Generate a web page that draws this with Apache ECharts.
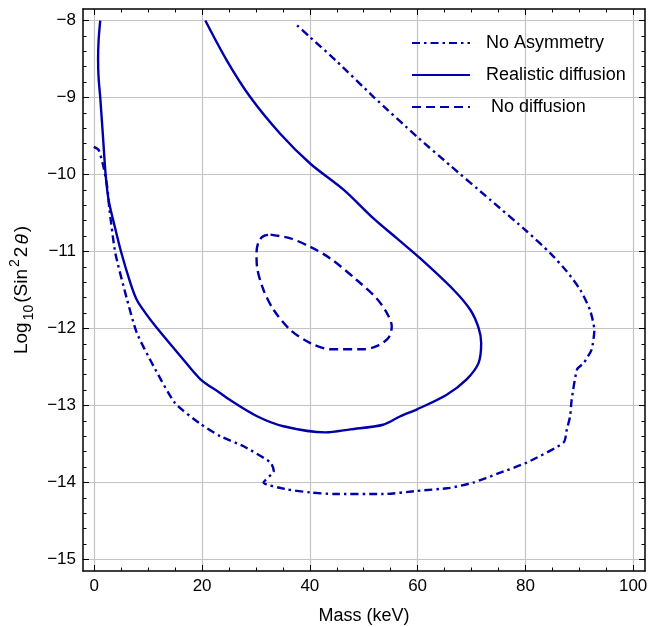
<!DOCTYPE html>
<html>
<head>
<meta charset="utf-8">
<script src="https://cdn.jsdelivr.net/npm/echarts@6/dist/echarts.min.js"></script>
<style>
html,body{margin:0;padding:0;background:#fff;}
#chart{width:660px;height:627px;}
</style>
</head>
<body>
<div id="chart"></div>
<script>
// ---- Data (Mass in keV, Log10(Sin^2 2θ)) ----
const noAsymMass = [-0.1,0.8,1.7,2.4,2.8,3.9,6.1,7.9,11.0,15.0,19.7,23.4,27.7,32.7,33.3,31.4,35.8,40.1,44.4,53.7,59.9,66.0,70.4,74.7,80.3,87.1,87.7,88.3,88.6,89.6,90.8,92.3,92.8,92.0,90.2,87.7,84.6,80.3,73.5,66.0,59.9,51.8,45.0,40.1,37.3];
const noAsymLog = [-9.64,-9.68,-9.90,-10.16,-10.45,-11.02,-11.63,-12.06,-12.49,-12.97,-13.24,-13.40,-13.53,-13.74,-13.85,-14.00,-14.09,-14.13,-14.15,-14.15,-14.11,-14.07,-14.00,-13.89,-13.74,-13.48,-13.31,-13.14,-12.92,-12.53,-12.45,-12.27,-12.02,-11.76,-11.50,-11.26,-11.02,-10.74,-10.33,-9.88,-9.51,-8.99,-8.53,-8.22,-8.04];

const realMass = [1.1,0.8,0.7,0.8,1.1,1.6,2.1,2.65,3.6,4.95,6.7,7.9,9.5,11.7,16.0,19.7,23.4,25.2,30.2,35.1,42.9,47.5,53.6,56.8,59.9,65.4,69.1,71.3,71.8,71.3,69.8,66.7,60.5,56.0,51.8,46.3,40.1,34.5,28.9,24.6,20.6];
const realLog = [-8.00,-8.25,-8.50,-8.75,-9.00,-9.50,-10.00,-10.33,-10.62,-11.00,-11.41,-11.63,-11.80,-12.00,-12.36,-12.66,-12.84,-12.93,-13.14,-13.27,-13.35,-13.31,-13.25,-13.14,-13.05,-12.86,-12.66,-12.45,-12.19,-11.99,-11.76,-11.50,-11.09,-10.82,-10.57,-10.20,-9.86,-9.47,-8.99,-8.52,-8.00];

const noDiffMass = [32.7,36.4,40.1,43.8,48.7,52.4,54.3,55.2,54.6,52.4,50.0,43.8,40.1,36.4,33.3,31.4,30.2,30.1,30.5,31.4,32.7];
const noDiffLog = [-10.78,-10.83,-10.94,-11.09,-11.37,-11.61,-11.80,-11.97,-12.12,-12.23,-12.27,-12.27,-12.19,-12.02,-11.76,-11.50,-11.20,-11.02,-10.87,-10.80,-10.78];

const seriesNames = ['No Asymmetry', 'Realistic diffusion', ' No diffusion'];
const xTicks = [0, 20, 40, 60, 80, 100];
const xMinorTicks = [5,10,15,25,30,35,45,50,55,65,70,75,85,90,95];
const yTicks = [-15, -14, -13, -12, -11, -10, -9, -8];
const yMinorTicks = [-14.8,-14.6,-14.4,-14.2,-13.8,-13.6,-13.4,-13.2,-12.8,-12.6,-12.4,-12.2,-11.8,-11.6,-11.4,-11.2,-10.8,-10.6,-10.4,-10.2,-9.8,-9.6,-9.4,-9.2,-8.8,-8.6,-8.4,-8.2];

const pairs = (xs, ys) => xs.map((x, i) => [x, ys[i]]);

const FONT = '"Liberation Sans", Arial, sans-serif';
const BLUE = '#0000aa';
const X_MIN = -2.1, X_MAX = 102.2, Y_MIN = -15.15, Y_MAX = -7.85;

const chart = echarts.init(document.getElementById('chart'), null, {renderer: 'canvas'});

function xAxisDef(pos, opts) {
  return Object.assign({
    type: 'value', position: pos, min: X_MIN, max: X_MAX, splitNumber: 5,
    axisLine: {show: false, onZero: false},
    axisTick: {show: false},
    axisLabel: {show: false},
    splitLine: {show: false},
    minorTick: {show: false},
    minorSplitLine: {show: false}
  }, opts);
}
function yAxisDef(pos, opts) {
  return Object.assign({
    type: 'value', position: pos, min: Y_MIN, max: Y_MAX, splitNumber: 7,
    axisLine: {show: false, onZero: false},
    axisTick: {show: false},
    axisLabel: {show: false},
    splitLine: {show: false},
    minorTick: {show: false},
    minorSplitLine: {show: false}
  }, opts);
}

const option = {
  backgroundColor: '#ffffff',
  animation: false,
  grid: {left: 83, right: 15, top: 9, bottom: 56, containLabel: false, outerBoundsMode: 'none'},
  legend: {
    orient: 'vertical',
    left: 411, top: 33,
    padding: 0,
    itemWidth: 58, itemHeight: 14, itemGap: 12,
    data: seriesNames,
    itemStyle: {opacity: 0},
    textStyle: {fontSize: 18, fontFamily: FONT, color: '#000', lineHeight: 20, padding: [0, 0, 0, 11]}
  },
  xAxis: [
    xAxisDef('bottom', {
      name: 'Mass (keV)', nameLocation: 'middle', nameGap: 36,
      nameTextStyle: {fontSize: 18, fontFamily: FONT, color: '#000'},
      axisLine: {show: true, onZero: false, lineStyle: {color: '#000', width: 1.5}},
      axisTick: {show: true, inside: true, length: 6, customValues: xTicks, lineStyle: {color: '#000', width: 1}},
      axisLabel: {show: true, customValues: xTicks, fontSize: 17, fontFamily: FONT, color: '#000', margin: 7},
      splitLine: {show: true, lineStyle: {color: '#c4c4c4', width: 1.2}}
    }),
    xAxisDef('bottom', {
      axisTick: {show: true, inside: true, length: 3.5, customValues: xMinorTicks, lineStyle: {color: '#000', width: 1}}
    }),
    xAxisDef('top', {
      axisLine: {show: true, onZero: false, lineStyle: {color: '#000', width: 1.5}},
      axisTick: {show: true, inside: true, length: 6, customValues: xTicks, lineStyle: {color: '#000', width: 1}}
    }),
    xAxisDef('top', {
      axisTick: {show: true, inside: true, length: 3.5, customValues: xMinorTicks, lineStyle: {color: '#000', width: 1}}
    })
  ],
  yAxis: [
    yAxisDef('left', {
      name: '{n|Log}{sub|10}{n|(Sin}{sup|2}{n|2}{th|θ}{n|)}',
      nameLocation: 'middle', nameGap: 41,
      nameTextStyle: {
        fontSize: 19, fontFamily: FONT, color: '#000',
        rich: {
          n: {fontSize: 19, fontFamily: FONT, color: '#000', lineHeight: 28, padding: [0, 1, 0, 1]},
          th: {fontSize: 19, fontFamily: FONT, color: '#000', fontStyle: 'italic', lineHeight: 28, padding: [0, 1, 0, 1]},
          sub: {fontSize: 14, fontFamily: FONT, color: '#000', lineHeight: 14, verticalAlign: 'bottom', padding: [0, 1, 0, 1]},
          sup: {fontSize: 14, fontFamily: FONT, color: '#000', lineHeight: 14, verticalAlign: 'top', padding: [0, 1, 0, 1]}
        }
      },
      axisLine: {show: true, onZero: false, lineStyle: {color: '#000', width: 1.5}},
      axisTick: {show: true, inside: true, length: 6, customValues: yTicks, lineStyle: {color: '#000', width: 1}},
      axisLabel: {show: true, customValues: yTicks, fontSize: 17, fontFamily: FONT, color: '#000', margin: 7,
        formatter: v => String(v).replace('-', '\u2212')},
      splitLine: {show: true, lineStyle: {color: '#c4c4c4', width: 1.2}}
    }),
    yAxisDef('left', {
      axisTick: {show: true, inside: true, length: 3.5, customValues: yMinorTicks, lineStyle: {color: '#000', width: 1}}
    }),
    yAxisDef('right', {
      axisLine: {show: true, onZero: false, lineStyle: {color: '#000', width: 1.5}},
      axisTick: {show: true, inside: true, length: 6, customValues: yTicks, lineStyle: {color: '#000', width: 1}}
    }),
    yAxisDef('right', {
      axisTick: {show: true, inside: true, length: 3.5, customValues: yMinorTicks, lineStyle: {color: '#000', width: 1}}
    })
  ],
  series: [
    {
      name: seriesNames[0], type: 'line', xAxisIndex: 0, yAxisIndex: 0,
      data: pairs(noAsymMass, noAsymLog), symbol: 'none', smooth: 0.2,
      lineStyle: {color: BLUE, width: 2.4, type: [8, 4, 2.5, 4]},
      itemStyle: {color: BLUE}
    },
    {
      name: seriesNames[1], type: 'line', xAxisIndex: 0, yAxisIndex: 0,
      data: pairs(realMass, realLog), symbol: 'none', smooth: 0.3,
      lineStyle: {color: BLUE, width: 2.4, type: 'solid'},
      itemStyle: {color: BLUE}
    },
    {
      name: seriesNames[2], type: 'line', xAxisIndex: 0, yAxisIndex: 0,
      data: pairs(noDiffMass, noDiffLog), symbol: 'none', smooth: 0.3,
      lineStyle: {color: BLUE, width: 2.4, type: [9, 5]},
      itemStyle: {color: BLUE}
    }
  ]
};
chart.setOption(option);
</script>
</body>
</html>
